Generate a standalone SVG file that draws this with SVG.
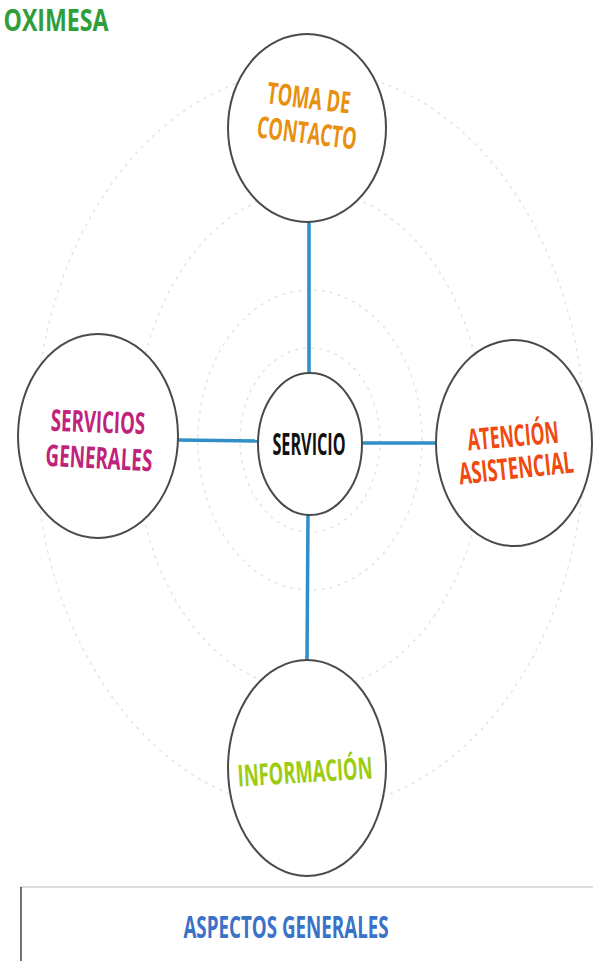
<svg xmlns="http://www.w3.org/2000/svg" width="593" height="961" viewBox="0 0 593 961">
<style>
.bg{fill:#fff}
.ring{fill:none;stroke:#e4e4e4;stroke-width:1.5;stroke-dasharray:3 5}
.node{fill:#fff;stroke:#4a4a4a;stroke-width:2}
.conn{stroke:#2f8fc6;stroke-width:3.5;fill:none}
.lbl{font-family:"Open Sans","Liberation Sans",sans-serif;text-anchor:middle;dominant-baseline:central;font-size:30px;font-weight:700}
</style>
<rect class="bg" x="0" y="0" width="593" height="961"/>
<g transform="translate(56 19) scale(0.7 1)">
<text x="0" y="0" font-family="Open Sans, Liberation Sans, sans-serif" font-size="30" font-weight="700" fill="#2e9e3a" text-anchor="middle" dominant-baseline="central" textLength="150" lengthAdjust="spacingAndGlyphs">OXIMESA</text>
</g>
<g id="rings">
<ellipse class="ring" cx="310" cy="440" rx="275" ry="370"/>
<ellipse class="ring" cx="310" cy="440" rx="175" ry="250"/>
<ellipse class="ring" cx="310" cy="440" rx="112" ry="150"/>
<ellipse class="ring" cx="310" cy="440" rx="70" ry="92"/>
</g>
<g id="connectors">
<line class="conn" x1="309" y1="222" x2="309" y2="374"/>
<line class="conn" x1="178" y1="440" x2="258" y2="441"/>
<line class="conn" x1="362" y1="443" x2="437" y2="443"/>
<line class="conn" x1="308" y1="515" x2="307" y2="660"/>
</g>
<g id="toma">
<ellipse class="node" cx="307" cy="128" rx="79" ry="94"/>
<g transform="translate(309 97) rotate(7) scale(0.6 1)"><text class="lbl" fill="#e8900f" font-weight="600" x="0" y="0" textLength="140" lengthAdjust="spacingAndGlyphs">TOMA DE</text></g>
<g transform="translate(307 132) rotate(7) scale(0.6 1)"><text class="lbl" fill="#e8900f" font-weight="600" x="0" y="0" textLength="167" lengthAdjust="spacingAndGlyphs">CONTACTO</text></g>
</g>
<g id="servicio">
<ellipse class="node" cx="310" cy="444" rx="52" ry="71"/>
<g transform="translate(309 443) scale(0.6 1)"><text class="lbl" fill="#111" font-weight="800" font-size="25" x="0" y="0" textLength="122" lengthAdjust="spacingAndGlyphs">SERVICIO</text></g>
</g>
<g id="servicios-generales">
<ellipse class="node" cx="98" cy="436" rx="80" ry="102"/>
<g transform="translate(98 421) rotate(2) scale(0.6 1)"><text class="lbl" fill="#c0237a" x="0" y="0" textLength="157" lengthAdjust="spacingAndGlyphs">SERVICIOS</text></g>
<g transform="translate(99 457) rotate(3) scale(0.6 1)"><text class="lbl" fill="#c0237a" x="0" y="0" textLength="178" lengthAdjust="spacingAndGlyphs">GENERALES</text></g>
</g>
<g id="atencion">
<ellipse class="node" cx="514" cy="443" rx="78" ry="103"/>
<g transform="translate(513 435) rotate(-5) scale(0.6 1)"><text class="lbl" fill="#f04a10" x="0" y="0" textLength="152" lengthAdjust="spacingAndGlyphs">ATENCIÓN</text></g>
<g transform="translate(516 467) rotate(-6) scale(0.6 1)"><text class="lbl" fill="#f04a10" x="0" y="0" textLength="192" lengthAdjust="spacingAndGlyphs">ASISTENCIAL</text></g>
</g>
<g id="informacion">
<ellipse class="node" cx="307" cy="768" rx="79" ry="108"/>
<g transform="translate(305 771) rotate(-3.5) scale(0.6 1)"><text class="lbl" fill="#9ccc10" font-weight="600" x="0" y="0" textLength="225" lengthAdjust="spacingAndGlyphs">INFORMACIÓN</text></g>
</g>
<g id="aspectos">
<line x1="20" y1="887" x2="593" y2="887" stroke="#cfcfcf" stroke-width="1.5"/>
<line x1="21" y1="887" x2="21" y2="961" stroke="#444" stroke-width="1.5"/>
<g transform="translate(286 926) scale(0.6 1)"><text class="lbl" fill="#3a72c8" font-weight="600" font-size="31" x="0" y="0" textLength="342" lengthAdjust="spacingAndGlyphs">ASPECTOS GENERALES</text></g>
</g>
</svg>
